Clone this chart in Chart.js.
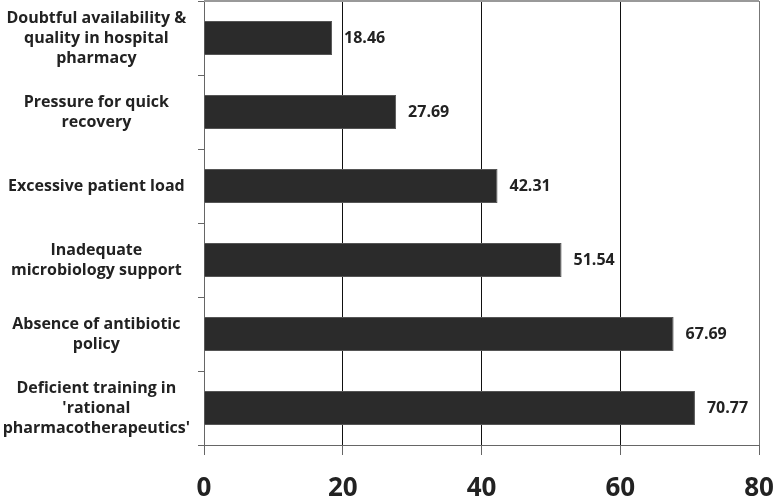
<!DOCTYPE html>
<html>
<head>
<meta charset="utf-8">
<script src="https://cdn.jsdelivr.net/npm/chart.js@4"></script>
<style>
  html, body { margin: 0; padding: 0; background: #fff; }
  #wrap { width: 775px; height: 498px; }
</style>
</head>
<body>
<div id="wrap"><canvas id="myChart"></canvas></div>
<script>
const categories = [
    ['Doubtful availability &', 'quality in hospital', 'pharmacy'],
    ['Pressure for quick', 'recovery'],
    ['Excessive patient load'],
    ['Inadequate', 'microbiology support'],
    ['Absence of antibiotic', 'policy'],
    ['Deficient training in', "'rational", "pharmacotherapeutics'"],
];
const values = [18.46, 27.69, 42.31, 51.54, 67.69, 70.77];
const xTicks = [0, 20, 40, 60, 80];

// value text right of each bar + grey line along the top of the plot
const valueLabels = {
    id: 'valueLabels',
    afterDatasetsDraw(chart) {
        const ctx = chart.ctx;
        const area = chart.chartArea;
        ctx.save();
        ctx.strokeStyle = '#999';
        ctx.lineWidth = 2;
        ctx.beginPath();
        ctx.moveTo(area.left, area.top);
        ctx.lineTo(area.right, area.top);
        ctx.stroke();

        ctx.font = 'bold 16px "Open Sans"';
        ctx.fillStyle = '#222';
        ctx.textBaseline = 'middle';
        ctx.textAlign = 'left';
        chart.getDatasetMeta(0).data.forEach((bar, i) => {
            ctx.fillText(values[i].toFixed(2), bar.x + 12, bar.y);
        });
        ctx.restore();
    }
};

const ctx = document.getElementById('myChart');
const myChart = new Chart(ctx, {
    type: 'bar',
    data: {
        labels: categories,
        datasets: [{
            data: values,
            backgroundColor: '#2b2b2b',
            borderColor: '#555',
            borderWidth: 1,
            barPercentage: 0.92,
            categoryPercentage: 0.5,
        }]
    },
    options: {
        indexAxis: 'y',
        responsive: true,
        maintainAspectRatio: false,
        animation: false,
        layout: { padding: { top: 1, right: 0, left: 0, bottom: 0 } },
        plugins: {
            legend: { display: false },
            tooltip: { enabled: false },
        },
        scales: {
            x: {
                min: 0,
                max: 80,
                afterBuildTicks: axis => { axis.ticks = xTicks.map(v => ({ value: v })); },
                afterFit: axis => { axis.height = 53; axis.paddingRight = 16; },
                border: { color: '#666', width: 1 },
                grid: {
                    color: c => (c.tick && (c.tick.value === 0 || c.tick.value === 80)) ? '#777' : '#111',
                    tickColor: '#666',
                    tickLength: 10,
                },
                ticks: {
                    color: '#222',
                    padding: 21,
                    font: { family: 'Open Sans', size: 26, weight: 'bold', lineHeight: 1 },
                },
            },
            y: {
                afterFit: axis => { axis.paddingTop = 0; axis.paddingBottom = 0; axis.width = 204; },
                border: { color: '#666', width: 1 },
                grid: {
                    offset: true,
                    drawOnChartArea: false,
                    tickColor: '#666',
                    tickLength: 6,
                },
                ticks: {
                    color: '#222',
                    padding: 8,
                    crossAlign: 'center',
                    font: { family: 'Open Sans', size: 16, weight: 'bold', lineHeight: 1.25 },
                },
            },
        },
    },
    plugins: [valueLabels],
});
</script>
</body>
</html>
